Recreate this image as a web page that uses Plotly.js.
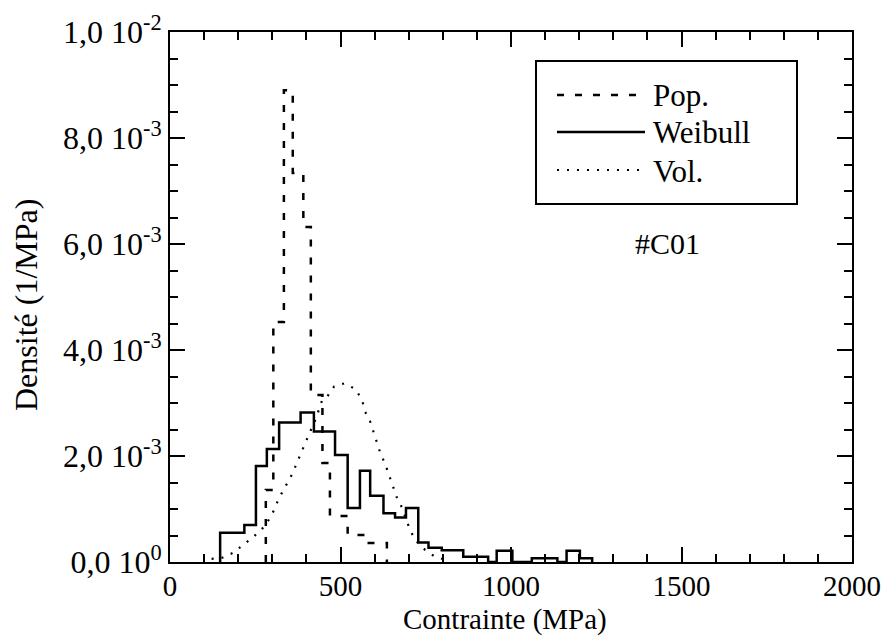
<!DOCTYPE html>
<html>
<head>
<meta charset="utf-8">
<script src="https://cdn.plot.ly/plotly-3.0.1.min.js"></script>
<style>html,body{margin:0;padding:0;background:#fff;}#chart{width:882px;height:636px;}</style>
</head>
<body>
<div id="chart"></div>
<script>
// ---- data (density in units of 1e-3 / MPa) ----
var weibullEdges = [147, 218, 252, 284, 320, 383, 422, 484, 521, 557, 587, 626, 660, 692, 728, 758, 797, 860, 933, 958, 1004, 1061, 1136, 1163, 1202, 1238];
var weibullDensity = [0.55, 0.70, 1.81, 2.13, 2.63, 2.82, 2.46, 2.02, 1.02, 1.72, 1.25, 0.92, 0.84, 1.02, 0.37, 0.27, 0.22, 0.10, 0.0, 0.21, 0.0, 0.07, 0.0, 0.21, 0.07];

var popEdges = [281, 303, 334, 360, 391, 413, 447, 469, 521, 572, 636];
var popDensity = [1.36, 4.53, 8.90, 7.34, 6.32, 3.15, 1.87, 0.87, 0.51, 0.36];

var volStress = [122, 149, 184, 213, 244, 277, 299, 311, 326, 345, 360, 372, 386, 399, 428, 447, 460, 481, 511, 545, 564, 572, 587, 598, 609, 617, 631, 642, 653, 665, 680, 702, 718, 748, 777, 809];
var volDensity = [0.06, 0.07, 0.17, 0.31, 0.47, 0.67, 0.89, 1.08, 1.28, 1.50, 1.68, 1.87, 2.10, 2.28, 2.71, 3.07, 3.11, 3.31, 3.37, 3.26, 3.04, 2.84, 2.65, 2.44, 2.24, 2.05, 1.85, 1.64, 1.43, 1.22, 1.03, 0.64, 0.42, 0.23, 0.10, 0.04];

var xTickVals = [0, 500, 1000, 1500, 2000];
var xTickText = ['0', '500', '1000', '1500', '2000'];
var yTickVals = [0, 2, 4, 6, 8, 10];
var yTickText = ['0,0 10<sup>0</sup>', '2,0 10<sup>-3</sup>', '4,0 10<sup>-3</sup>', '6,0 10<sup>-3</sup>', '8,0 10<sup>-3</sup>', '1,0 10<sup>-2</sup>'];
var legendNames = ['Pop.', 'Weibull', 'Vol.'];
var sampleLabel = '#C01';
var xTitle = 'Contrainte (MPa)';
var yTitle = 'Densité (1/MPa)';

// build step outline from edges/heights
function outline(edges, dens) {
  var x = [edges[0]], y = [0];
  for (var i = 0; i < dens.length; i++) { x.push(edges[i]); y.push(dens[i]); }
  x.push(edges[edges.length - 1]); y.push(0);
  return {x: x, y: y};
}
var w = outline(weibullEdges, weibullDensity);
var p = outline(popEdges, popDensity);

var FONT = '"Liberation Serif", "Times New Roman", serif';
var DASH = '7px,11px';
var DOT = '2px,8px';

var traces = [
  {x: p.x, y: p.y, mode: 'lines', line: {shape: 'hv', color: '#000', width: 2.5, dash: DASH}, name: legendNames[0]},
  {x: w.x, y: w.y, mode: 'lines', line: {shape: 'hv', color: '#000', width: 2.5}, name: legendNames[1]},
  {x: volStress, y: volDensity, mode: 'lines', line: {color: '#000', width: 2.2, dash: DOT}, name: legendNames[2]}
];

function px2x(px) { return (px - 170) / 682; }
function py2y(py) { return (562 - py) / 530; }

var legendY = [95, 132, 170];
var dashes = [DASH, 'solid', DOT];
var shapes = [{type: 'rect', xref: 'paper', yref: 'paper', x0: px2x(536), x1: px2x(797), y0: py2y(204), y1: py2y(61), line: {color: '#000', width: 2}, fillcolor: 'rgba(0,0,0,0)'}];
var annotations = [];
for (var i = 0; i < 3; i++) {
  shapes.push({type: 'line', xref: 'paper', yref: 'paper', x0: px2x(557), x1: px2x(645), y0: py2y(legendY[i]), y1: py2y(legendY[i]), line: {color: '#000', width: i === 2 ? 2.2 : 2.5, dash: dashes[i]}});
  annotations.push({xref: 'paper', yref: 'paper', x: px2x(651), y: py2y(legendY[i] + 1), xanchor: 'left', yanchor: 'middle', text: legendNames[i], showarrow: false, font: {family: FONT, size: 31, color: '#000'}});
}
annotations.push({xref: 'paper', yref: 'paper', x: px2x(667), y: py2y(243), xanchor: 'center', yanchor: 'middle', text: sampleLabel, showarrow: false, font: {family: FONT, size: 30, color: '#000'}});
// axis titles
annotations.push({xref: 'paper', yref: 'paper', x: px2x(505), y: py2y(619), xanchor: 'center', yanchor: 'middle', borderpad: 0, text: xTitle, showarrow: false, font: {family: FONT, size: 29, color: '#000'}});
annotations.push({xref: 'paper', yref: 'paper', x: px2x(26), y: py2y(305), xanchor: 'center', yanchor: 'middle', borderpad: 0, textangle: -90, text: yTitle, showarrow: false, font: {family: FONT, size: 32, color: '#000'}});

var layout = {
  width: 882, height: 636,
  margin: {l: 170, r: 30, t: 32, b: 74},
  paper_bgcolor: '#fff', plot_bgcolor: '#fff',
  showlegend: false,
  font: {family: FONT, size: 30, color: '#000'},
  xaxis: {
    range: [0, 2000], showgrid: false, zeroline: false, automargin: false,
    showline: true, linecolor: '#000', linewidth: 2, mirror: 'allticks',
    ticks: 'inside', ticklen: 15, tickwidth: 2, tickcolor: '#000',
    tickmode: 'array', tickvals: xTickVals, ticktext: xTickText,
    ticklabelstandoff: -3,
    tickfont: {family: FONT, size: 29, color: '#000'},
    minor: {dtick: 100, tick0: 0, ticks: 'inside', ticklen: 8, tickwidth: 2, tickcolor: '#000', showgrid: false}
  },
  yaxis: {
    range: [0, 10], showgrid: false, zeroline: false, automargin: false,
    showline: true, linecolor: '#000', linewidth: 2, mirror: 'allticks',
    ticks: 'inside', ticklen: 15, tickwidth: 2, tickcolor: '#000',
    tickmode: 'array', tickvals: yTickVals, ticktext: yTickText,
    tickfont: {family: FONT, size: 32, color: '#000'},
    minor: {dtick: 0.5, tick0: 0, ticks: 'inside', ticklen: 8, tickwidth: 2, tickcolor: '#000', showgrid: false}
  },
  shapes: shapes,
  annotations: annotations
};

Plotly.newPlot('chart', traces, layout, {staticPlot: true, displayModeBar: false});
</script>
</body>
</html>
